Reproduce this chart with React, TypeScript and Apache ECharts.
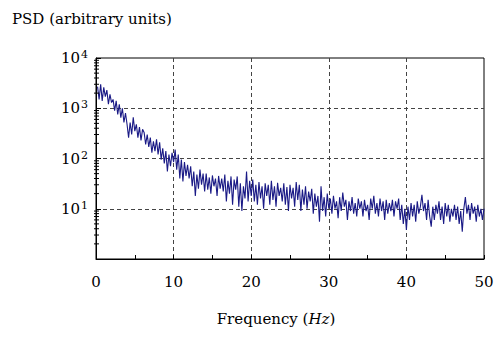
import React, { useEffect, useRef } from "react";
import * as echarts from "echarts";

const FREQ_STEP = 0.2; // Hz between samples
const psdValues: number[] = [
  2700, 1500, 3000, 1400, 2600, 1700, 2300, 1200, 1900, 1300,
  1500, 900, 1400, 750, 1200, 650, 1000, 520, 800, 480,
  260, 520, 300, 660, 350, 480, 260, 420, 230, 380,
  330, 190, 300, 170, 260, 130, 220, 140, 240, 120,
  210, 95, 160, 80, 140, 55, 120, 70, 130, 85,
  150, 60, 120, 40, 95, 35, 85, 45, 75, 40,
  70, 28, 55, 18, 48, 25, 60, 30, 50, 22,
  50, 24, 42, 20, 46, 28, 40, 18, 45, 25,
  40, 22, 48, 14, 36, 20, 44, 12, 38, 24,
  44, 11, 32, 9, 28, 16, 55, 14, 36, 18,
  38, 14, 30, 12, 34, 16, 28, 10, 32, 18,
  30, 12, 36, 15, 28, 11, 33, 18, 26, 14,
  32, 12, 27, 9, 30, 16, 26, 11, 34, 15,
  30, 9, 24, 12, 28, 10, 22, 14, 25, 8,
  20, 11, 18, 5.5, 28, 9, 17, 7, 20, 10,
  16, 8, 18, 10, 14, 6.5, 17, 9, 21, 11,
  15, 6, 14, 9, 17, 8, 13, 7, 16, 10,
  14, 7, 15, 9, 12, 6, 16, 10, 18, 8,
  13, 7, 16, 9, 14, 6, 15, 8, 13, 9,
  15, 7, 14, 10, 16, 6, 12, 5, 10, 3.8,
  11, 6, 13, 7, 12, 5.5, 14, 8, 11, 19,
  9, 13, 6, 15, 7, 4.4, 11, 6, 12, 8,
  14, 6, 11, 5, 13, 7, 12, 5.5, 10, 7,
  12, 6, 11, 5, 9, 3.5, 10, 17, 8, 12,
  6, 13, 8, 11, 5.5, 12, 7, 10, 6, 10,
];

const xMin = 0;
const xMax = 50;
const xInterval = 10;
const yMin = 1;
const yMax = 10000;
const decades = [1, 10, 100, 1000];
const minorMultipliers = [2, 3, 4, 5, 6, 7, 8, 9];

const titleText = "PSD (arbitrary units)";

export default function App() {
  const ref = useRef<HTMLDivElement>(null);
  useEffect(() => {
    if (!ref.current) return;
    const chart = echarts.init(ref.current, undefined, { renderer: "svg" });
    const lineData = psdValues.map((v, i) => [
      Number(((i + 1) * FREQ_STEP).toFixed(1)),
      v,
    ]);
    const minorTicks: number[][] = [];
    decades.forEach((d) =>
      minorMultipliers.forEach((m) => minorTicks.push([xMin, d * m]))
    );
    const serif = '"DejaVu Serif", "Liberation Serif", serif';
    chart.setOption({
      animation: false,
      backgroundColor: "#fff",
      grid: {
        left: 96,
        right: 15,
        top: 58,
        bottom: 80,
        show: true,
        borderColor: "#000",
        borderWidth: 1,
        backgroundColor: "transparent",
      },
      xAxis: {
        type: "value",
        min: xMin,
        max: xMax,
        interval: xInterval,
        axisLine: { lineStyle: { color: "#000", width: 1 } },
        axisTick: { inside: true, length: 4, lineStyle: { color: "#000" } },
        minorTick: { show: true, splitNumber: 2, length: 4, lineStyle: { color: "#000" } },
        splitLine: {
          show: true,
          showMinLine: false,
          showMaxLine: false,
          lineStyle: { color: "#444", type: [4, 3], width: 1 },
        },
        axisLabel: { fontFamily: serif, fontSize: 15, color: "#000", margin: 15 },
      },
      yAxis: {
        type: "log",
        logBase: 10,
        min: yMin,
        max: yMax,
        axisLine: { show: true, lineStyle: { color: "#000", width: 1 } },
        axisTick: { show: true, inside: true, length: 5, lineStyle: { color: "#000" } },
        splitLine: {
          show: true,
          showMinLine: false,
          showMaxLine: false,
          lineStyle: { color: "#444", type: [4, 3], width: 1 },
        },
        axisLabel: {
          margin: 8,
          formatter: (v: number) => {
            const e = Math.round(Math.log10(v));
            return e === 0 ? "" : `{b|10}{s|${e}}`;
          },
          rich: {
            b: { fontFamily: serif, fontSize: 15, color: "#000", lineHeight: 18 },
            s: { fontFamily: serif, fontSize: 11, color: "#000", verticalAlign: "top", lineHeight: 11, padding: [0, 0, 6, 1] },
          },
        },
      },
      graphic: [
        {
          type: "text",
          x: 12,
          y: 19,
          style: {
            text: titleText,
            font: `15px ${serif}`,
            fill: "#000",
            verticalAlign: "middle",
          },
        },
        {
          type: "text",
          x: 276,
          y: 319,
          style: {
            text: "{n|Frequency (}{i|Hz}{n|)}",
            align: "center",
            verticalAlign: "middle",
            rich: {
              n: { fontFamily: serif, fontSize: 15, color: "#000" },
              i: { fontFamily: serif, fontSize: 15, fontStyle: "italic", color: "#000" },
            },
          },
        },
      ],
      series: [
        {
          type: "line",
          data: lineData,
          showSymbol: false,
          symbol: "none",
          lineStyle: { color: "#1a1a86", width: 1.1 },
          silent: true,
          z: 3,
        },
        {
          type: "custom",
          coordinateSystem: "cartesian2d",
          data: minorTicks,
          clip: false,
          silent: true,
          z: 4,
          renderItem: (_p: any, api: any) => {
            const pt = api.coord([api.value(0), api.value(1)]);
            return {
              type: "line",
              shape: { x1: pt[0] - 2, y1: pt[1], x2: pt[0] + 3, y2: pt[1] },
              style: { stroke: "#000", lineWidth: 1 },
            };
          },
        },
      ],
    });
    return () => chart.dispose();
  }, []);
  return (
    <div
      ref={ref}
      style={{ position: "fixed", left: 0, top: 0, width: 499, height: 339 }}
    />
  );
}
